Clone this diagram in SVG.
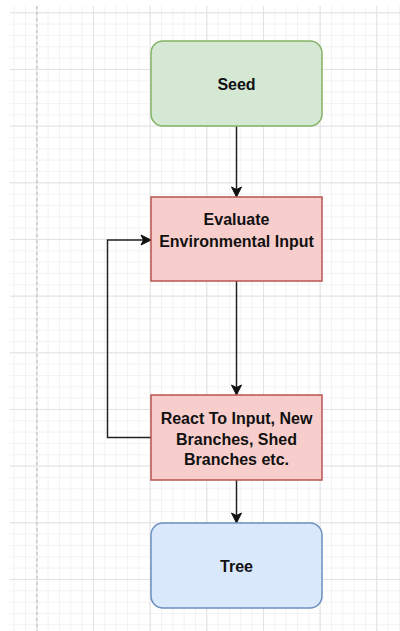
<svg xmlns="http://www.w3.org/2000/svg" width="400" height="631" viewBox="0 0 400 631">
  <defs>
    <pattern id="minor" patternUnits="userSpaceOnUse" x="36.3" y="12.3" width="11.333" height="11.333">
      <path d="M0 0.5 H11.333 M0.5 0 V11.333" fill="none" stroke="#f2f2f2" stroke-width="1"/>
    </pattern>
    <pattern id="major" patternUnits="userSpaceOnUse" x="36.3" y="12.3" width="56.667" height="56.667">
      <path d="M0 0.5 H56.667 M0.5 0 V56.667" fill="none" stroke="#e2e2e2" stroke-width="1"/>
    </pattern>
    <marker id="arrow" viewBox="0 0 12 12" refX="11" refY="6" markerWidth="12" markerHeight="12" markerUnits="userSpaceOnUse" orient="auto">
      <path d="M1 1 L11 6 L1 11 L3.5 6 Z" fill="#111" stroke="#111" stroke-width="1"/>
    </marker>
  </defs>
  <style>
    .lbl { font-family: "Liberation Sans", Arial, sans-serif; font-size: 16px; font-weight: bold; fill: #111; text-anchor: middle; }
    .edge { fill: none; stroke: #222; stroke-width: 1.5; }
    .green { fill: #d5e8d4; stroke: #82b366; stroke-width: 1.5; }
    .red { fill: #f8cecc; stroke: #b85450; stroke-width: 1.5; }
    .blue { fill: #dae8fc; stroke: #6c8ebf; stroke-width: 1.5; }
  </style>
  <rect width="400" height="631" fill="#ffffff"/>
  <g id="grid">
    <rect x="10" y="6" width="390" height="625" fill="url(#minor)"/>
    <rect x="10" y="6" width="390" height="625" fill="url(#major)"/>
    <line x1="37" y1="6" x2="37" y2="631" stroke="#b8b8b8" stroke-width="1" stroke-dasharray="3,3"/>
  </g>
  <g id="connectors">
    <path class="edge" d="M236.5 126 V197" marker-end="url(#arrow)"/>
    <path class="edge" d="M236.5 281 V395" marker-end="url(#arrow)"/>
    <path class="edge" d="M236.5 480 V523" marker-end="url(#arrow)"/>
    <path class="edge" d="M151 437.5 H107.5 V240 H151" marker-end="url(#arrow)"/>
  </g>
  <g id="seed">
    <rect class="green" x="151" y="41" width="171" height="85" rx="12" ry="12"/>
    <text class="lbl" x="236.5" y="89.5">Seed</text>
  </g>
  <g id="evaluate">
    <rect class="red" x="151" y="197" width="171" height="84"/>
    <text class="lbl" x="236.5" y="225">Evaluate</text>
    <text class="lbl" x="236.5" y="246.5">Environmental Input</text>
  </g>
  <g id="react">
    <rect class="red" x="151" y="395" width="171" height="85"/>
    <text class="lbl" x="236.5" y="423.5">React To Input, New</text>
    <text class="lbl" x="236.5" y="445">Branches, Shed</text>
    <text class="lbl" x="236.5" y="465">Branches etc.</text>
  </g>
  <g id="tree">
    <rect class="blue" x="151" y="523" width="171" height="85" rx="12" ry="12"/>
    <text class="lbl" x="236.5" y="572">Tree</text>
  </g>
</svg>
